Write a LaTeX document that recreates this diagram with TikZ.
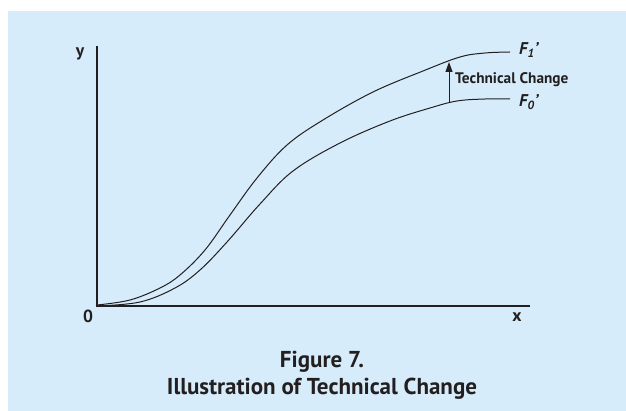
\documentclass[tikz,border=0pt]{standalone}
\usepackage{fontspec}
\setmainfont{PT Sans}
\usepackage{tikz}
\usetikzlibrary{positioning,arrows.meta}
\definecolor{panelblue}{RGB}{214,236,250}
\definecolor{inkgray}{RGB}{35,31,32}

\begin{document}
\begin{tikzpicture}[x=1pt,y=-1pt,
  axis/.style={line width=1.3pt,draw=inkgray},
  curve/.style={line width=1pt,draw=inkgray},
  lbl/.style={text=inkgray,inner sep=0pt,font=\bfseries\fontsize{17.5}{17.5}\selectfont},
  flbl/.style={lbl,font=\bfseries\itshape\fontsize{17}{17}\selectfont},
  captext/.style={text=inkgray,inner sep=0pt,font=\bfseries\fontsize{23}{23}\selectfont}]
\useasboundingbox (0,0) rectangle (626,411);
\fill[white] (0,0) rectangle (626,411);
\fill[panelblue] (8,11) rectangle (626,411);
% axes
\coordinate (O) at (97,306);
\coordinate (ytop) at (97,46);
\coordinate (xend) at (530,306);
\draw[axis] (ytop) -- (O) -- (xend);
\node[lbl] (ylab) at (80,54) {y};
\node[lbl] (zero) at (88,316) {0};
\node[lbl] (xlab) at (517,317) {x};
% production curves
\draw[curve] plot[smooth,tension=0.6] coordinates {(97,305) (130,300) (160,288) (180,275) (205,250) (230,215) (257,178) (287,145) (323,120) (373,92) (423,71) (460,57) (485,53) (510,52)};
\draw[curve] plot[smooth,tension=0.6] coordinates {(97,306) (140,302) (175,288) (200,270) (227,242) (260,204) (293,171) (340,143) (390,121) (430,108) (457,101) (485,99) (510,99)};
\node[flbl,anchor=west] (fone) at (519,50) {F\textsubscript{1}’};
\node[flbl,anchor=west] (fzero) at (519,102) {F\textsubscript{0}’};
% shift
\coordinate (lowpt) at (449,103);
\coordinate (uppt) at (449,62);
\draw[curve,-{Triangle[length=10pt,width=7pt]}] (lowpt) -- (uppt);
\node[lbl,anchor=west,font=\bfseries\fontsize{15.3}{15.3}\selectfont] (shift) at (455,80) {Technical Change};
% caption
\node[captext] (fig) at (322,362) {Figure 7.};
\node[captext] (title) at (322,389) {Illustration of Technical Change};
\end{tikzpicture}
\end{document}
